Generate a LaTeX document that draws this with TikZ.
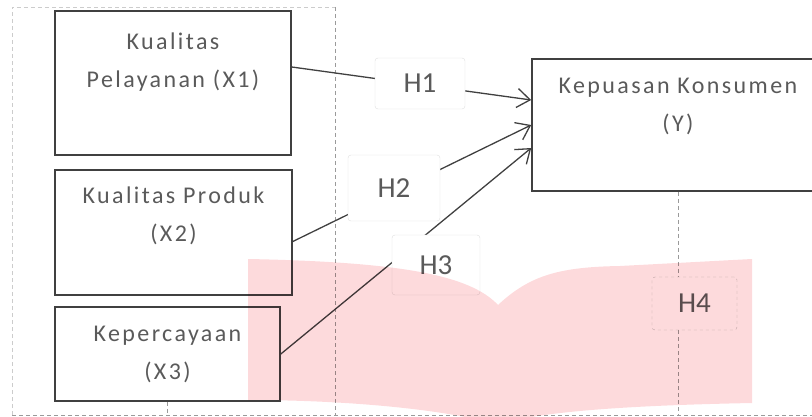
\documentclass[tikz,border=0pt]{standalone}
\usepackage{fontspec}
\setmainfont{Carlito}
\newfontfamily\varfont[LetterSpace=10]{Carlito}
\usetikzlibrary{arrows.meta}
\definecolor{linegray}{HTML}{404040}
\definecolor{textgray}{HTML}{5A5A5A}
\definecolor{framegray}{HTML}{9A9A9A}
\definecolor{markpink}{HTML}{FDDADC}

\begin{document}
\begin{tikzpicture}[x=1pt, y=-1pt,
    varbox/.style={draw=linegray, line width=1.6pt, inner sep=0pt},
    vartext/.style={text=textgray, font=\varfont\fontsize{24}{38}\selectfont, align=center, inner sep=0pt},
    hbox/.style={draw=gray!25, rounded corners=3pt, fill=white, text=textgray, font=\fontsize{29}{34}\selectfont},
    link/.style={draw=linegray, line width=1.3pt, -{Straight Barb[length=13pt,width=19pt]}},
    frame/.style={draw=framegray, dash pattern=on 4pt off 3pt, line width=0.8pt}]
    \useasboundingbox (0,0) rectangle (812,417);
    % Frame
    \coordinate (ftl) at (12,7);
    \coordinate (ftr) at (335,7);
    \coordinate (fbl) at (12,415);
    \coordinate (fbm) at (335,415);
    \coordinate (fbr) at (812,415);
    \draw [frame, draw=gray!40] (fbl) -- (ftl) -- (ftr);
    \draw [frame] (ftr) -- (fbm);
    \draw [frame] (fbl) -- (fbr);
    % Independent variables
    \node [varbox, minimum width=236pt, minimum height=144pt] (x1) at (173,83) {};
    \node [vartext] at ([yshift=-52pt]x1.north) {Kualitas\\Pelayanan (X1)};
    \node [varbox, minimum width=237pt, minimum height=125pt] (x2) at (173.5,232.5) {};
    \node [vartext] at ([yshift=-47pt]x2.north) {Kualitas Produk\\(X2)};
    \node [varbox, minimum width=225pt, minimum height=94pt] (x3) at (167.5,354) {};
    \node [vartext] at (x3) {Kepercayaan\\(X3)};
    % Dependent variable
    \node [varbox, minimum width=292pt, minimum height=132pt] (y) at (678,125) {};
    \node [vartext] at ([yshift=-48pt]y.north) {Kepuasan Konsumen\\(Y)};
    % Paths
    \draw [link] ([yshift=16pt]x1.east) -- ([yshift=25pt]y.west);
    \draw [link] ([yshift=-9pt]x2.east) -- (y.west);
    \draw [link] (x3.east) -- ([yshift=-23pt]y.west);
    % Hypotheses
    \node [hbox, minimum width=90pt, minimum height=51pt] (h1) at (420,83.5) {H1};
    \node [hbox, minimum width=92pt, minimum height=66pt] (h2) at (394,188) {H2};
    \node [hbox, minimum width=88pt, minimum height=60pt] (h3) at (436,265) {H3};
    \node [hbox, fill=none, draw=gray!50, dashed, minimum width=85pt, minimum height=53pt] (h4) at (694.5,303.5) {H4};
    % Drop lines
    \draw [frame] (y.south) -- (y.south |- h4.north);
    \draw [frame] (y.south |- h4.south) -- (y.south |- fbr);
    \draw [frame] (x3.south) -- (x3.south |- fbl);
    % Watermark
    \begin{scope}[blend mode=multiply]
    \fill [markpink] (248,259) .. controls (400,262) and (470,275) .. (498,305)
        .. controls (530,275) and (560,267) .. (620,266) -- (752,259) -- (752,403)
        .. controls (650,405) and (540,410) .. (498,425)
        .. controls (450,410) and (350,400) .. (248,400) -- cycle;
    \end{scope}
\end{tikzpicture}
\end{document}
